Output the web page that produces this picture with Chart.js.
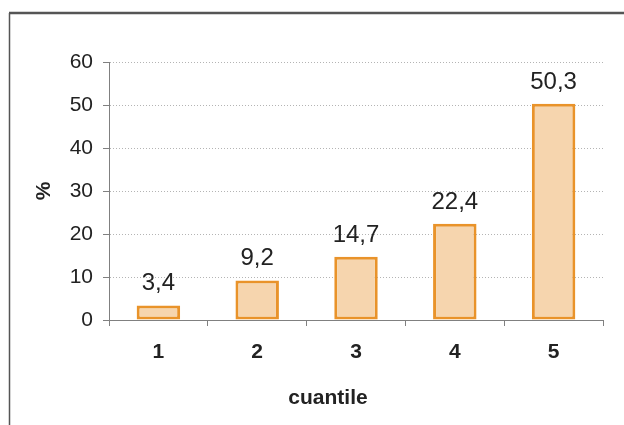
<!DOCTYPE html>
<html>
<head>
<meta charset="utf-8">
<script src="https://cdn.jsdelivr.net/npm/chart.js@4.4.1/dist/chart.umd.min.js"></script>
<style>
  html, body { margin: 0; padding: 0; background: #fff; }
  #wrap { width: 624px; height: 425px; position: relative; }
</style>
</head>
<body>
<div id="wrap"><canvas id="chart"></canvas></div>
<script>
const categories = ['1', '2', '3', '4', '5'];
const values = [3.4, 9.2, 14.7, 22.4, 50.3];
const yTicks = [0, 10, 20, 30, 40, 50, 60];
const xTitle = 'cuantile';
const yTitle = '%';

const FONT = "'Liberation Sans', Arial, sans-serif";

// frame lines + x title + value labels
const extras = {
    id: 'extras',
    beforeDraw(chart) {
        const ctx = chart.ctx;
        ctx.save();
        ctx.strokeStyle = '#555';
        ctx.lineWidth = 2.5;
        ctx.beginPath();
        ctx.moveTo(9, 13);
        ctx.lineTo(624, 13);
        ctx.stroke();
        ctx.lineWidth = 1.5;
        ctx.beginPath();
        ctx.moveTo(9.5, 13);
        ctx.lineTo(9.5, 425);
        ctx.stroke();
        ctx.restore();
    },
    afterDraw(chart) {
        const ctx = chart.ctx;
        ctx.save();
        ctx.fillStyle = '#222';
        ctx.textAlign = 'center';
        ctx.textBaseline = 'middle';
        ctx.font = 'bold 21px ' + FONT;
        ctx.fillText(xTitle, 328, 398);

        ctx.font = '24px ' + FONT;
        ctx.textBaseline = 'alphabetic';
        chart.getDatasetMeta(0).data.forEach((bar, i) => {
            const txt = String(values[i]).replace('.', ',');
            ctx.fillText(txt, bar.x, bar.y - 15);
        });
        ctx.restore();
    }
};

new Chart(document.getElementById('chart'), {
    type: 'bar',
    data: {
        labels: categories,
        datasets: [{
            data: values,
            backgroundColor: '#F6D5AE',
            borderColor: '#E9932A',
            borderWidth: 3,
            borderSkipped: false,
            categoryPercentage: 1,
            barPercentage: 0.44
        }]
    },
    options: {
        responsive: true,
        maintainAspectRatio: false,
        animation: false,
        layout: { padding: { left: 0, top: 62, right: 21, bottom: 0 } },
        plugins: {
            legend: { display: false },
            tooltip: { enabled: false }
        },
        scales: {
            x: {
                offset: true,
                grid: {
                    offset: true,
                    drawOnChartArea: false,
                    tickLength: 6,
                    tickColor: '#808080'
                },
                border: { color: '#808080', width: 1 },
                ticks: {
                    color: '#222',
                    font: { family: FONT, size: 21, weight: 'bold' },
                    padding: 14,
                    maxRotation: 0
                },
                afterFit(scale) { scale.height = 105; }
            },
            y: {
                min: 0,
                max: 60,
                afterBuildTicks(scale) { scale.ticks = yTicks.map(v => ({ value: v })); },
                grid: {
                    color: '#b4b4b4',
                    tickLength: 6,
                    tickColor: '#808080',
                    tickBorderDash: []
                },
                border: { color: '#808080', width: 1, dash: [1, 2] },
                ticks: {
                    color: '#222',
                    font: { family: FONT, size: 21 },
                    padding: 10
                },
                title: {
                    display: true,
                    text: yTitle,
                    color: '#222',
                    font: { family: FONT, size: 21, weight: 'bold' },
                    padding: { top: 32, bottom: 0 }
                },
                afterFit(scale) { scale.width = 109; }
            }
        }
    },
    plugins: [extras]
});
</script>
</body>
</html>
